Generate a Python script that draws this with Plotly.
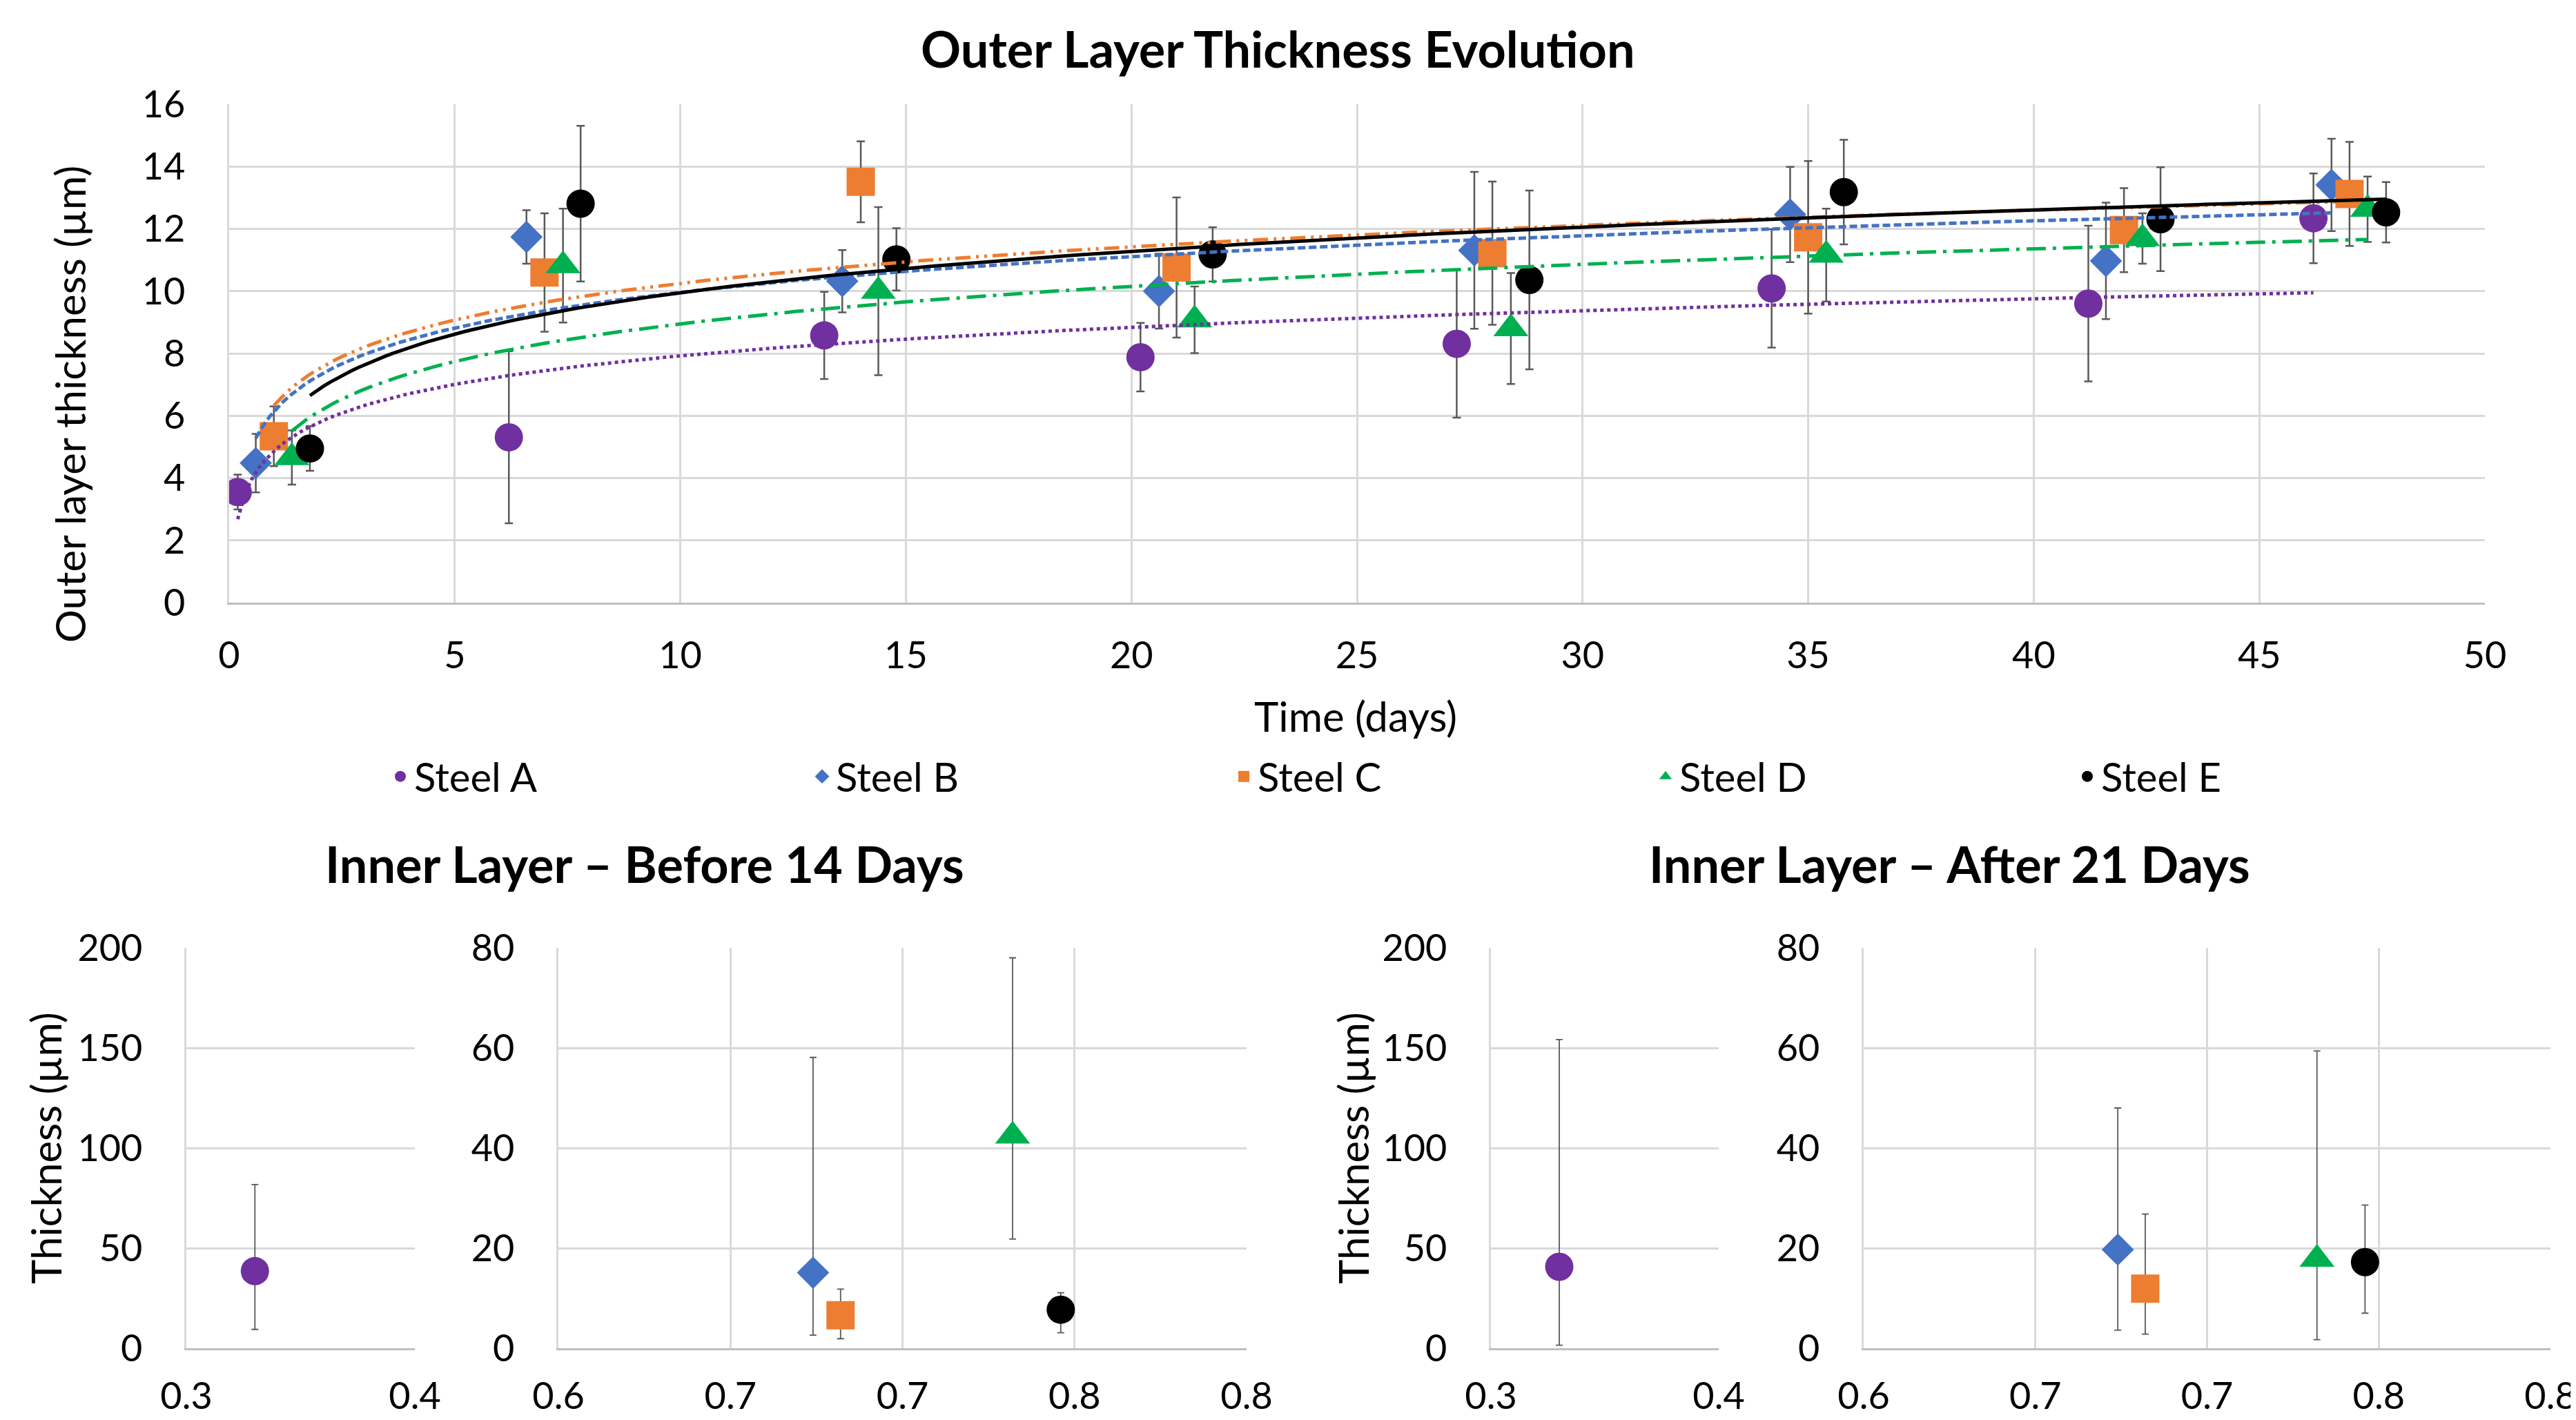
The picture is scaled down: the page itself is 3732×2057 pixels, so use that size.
import numpy as np
import plotly.graph_objects as go

# ---------------- data: outer layer (days, thickness, error) ----------------
days_A = [0.19, 6.2, 13.19, 20.2, 27.21, 34.19, 41.21, 46.2]
thick_A = [3.55, 5.31, 8.58, 7.88, 8.31, 10.09, 9.6, 12.34]
err_A = [0.56, 2.76, 1.4, 1.1, 2.37, 1.9, 2.5, 1.44]

days_B = [0.59, 6.59, 13.59, 20.61, 27.6, 34.6, 41.6, 46.6]
thick_B = [4.48, 11.74, 10.32, 10.0, 11.31, 12.46, 10.97, 13.41]
err_B = [0.94, 0.86, 1.0, 1.2, 2.52, 1.53, 1.87, 1.48]

days_C = [0.99, 6.99, 14.0, 21.0, 28.0, 35.0, 42.0, 47.0]
thick_C = [5.34, 10.6, 13.51, 10.76, 11.22, 11.73, 11.96, 13.12]
err_C = [0.96, 1.9, 1.3, 2.25, 2.3, 2.45, 1.35, 1.67]

days_D = [1.39, 7.4, 14.39, 21.4, 28.41, 35.4, 42.41, 47.4]
thick_D = [4.66, 10.82, 10.0, 9.08, 8.8, 11.16, 11.69, 12.63]
err_D = [0.87, 1.83, 2.7, 1.07, 1.78, 1.49, 0.81, 1.05]

days_E = [1.79, 7.79, 14.79, 21.8, 28.82, 35.79, 42.81, 47.81]
thick_E = [4.95, 12.81, 11.02, 11.18, 10.36, 13.18, 12.31, 12.53]
err_E = [0.72, 2.5, 1.0, 0.87, 2.87, 1.68, 1.67, 0.97]

# ---------------- data: inner layer ----------------
inner_x_A = [0.33]
before_A = [38.5]
before_A_plus = [43.3]
before_A_minus = [29.1]
after_A = [40.7]
after_A_plus = [113.5]
after_A_minus = [39.2]

inner_names = ["Steel B", "Steel C", "Steel D", "Steel E"]
inner_x = [0.674, 0.682, 0.732, 0.746]
before = [15.1, 6.6, 42.4, 7.7]
before_plus = [43.0, 5.2, 35.6, 3.4]
before_minus = [12.5, 4.7, 20.6, 4.6]
after = [19.7, 11.9, 17.8, 17.2]
after_plus = [28.3, 14.9, 41.6, 11.4]
after_minus = [16.1, 9.1, 16.1, 10.2]

x_ticks_top = [0, 5, 10, 15, 20, 25, 30, 35, 40, 45, 50]
y_ticks_top = [0, 2, 4, 6, 8, 10, 12, 14, 16]
small_ticks = [0.3, 0.4]
small_ticktext = ["0.3", "0.4"]
wide_ticks = [0.6, 0.65, 0.7, 0.75, 0.8]
wide_ticktext = ["0.6", "0.7", "0.7", "0.8", "0.8"]

# ---------------- styles ----------------
W, H = 3732, 2057
FONT = "Lato"
GRID = "#D9D9D9"
ERRC = "#595959"
series = [
    ("Steel A", days_A, thick_A, err_A, "#7030A0", "circle", 41, "dot"),
    ("Steel B", days_B, thick_B, err_B, "#4472C4", "diamond", 36, "11px,5px"),
    ("Steel C", days_C, thick_C, err_C, "#ED7D31", "square", 41, "22px,8px,4px,8px,4px,8px"),
    ("Steel D", days_D, thick_D, err_D, "#00B050", "triangle-up", 44, "28px,10px,5px,10px"),
    ("Steel E", days_E, thick_E, err_E, "#000000", "circle", 41, "solid"),
]
style = {s[0]: s for s in series}


def px_x(p):
    return p / W


def px_y(p):
    return 1 - p / H


fig = go.Figure()

# markers with error bars (top chart)
for name, xs, ys, es, col, sym, size, dash in series:
    fig.add_trace(go.Scatter(
        x=xs, y=ys, mode="markers", name=name,
        marker=dict(color=col, symbol=sym, size=size, line=dict(width=0)),
        error_y=dict(type="data", array=es, visible=True, color=ERRC,
                     thickness=2.5, width=6),
        xaxis="x", yaxis="y", showlegend=True,
    ))

# logarithmic trendlines computed from the data
for name, xs, ys, es, col, sym, size, dash in series:
    b, a = np.polyfit(np.log(xs), ys, 1)
    xt = np.linspace(min(xs), max(xs), 300)
    yt = a + b * np.log(xt)
    fig.add_trace(go.Scatter(
        x=xt, y=yt, mode="lines", showlegend=False, hoverinfo="skip",
        line=dict(color=col, width=5, dash=dash),
        xaxis="x", yaxis="y",
    ))


def inner_trace(name, xs, ys, plus, minus, xa, ya):
    _, _, _, _, col, sym, size, _ = style[name]
    return go.Scatter(
        x=xs, y=ys, mode="markers", showlegend=False, name=name,
        marker=dict(color=col, symbol=sym, size=size, line=dict(width=0)),
        error_y=dict(type="data", symmetric=False, array=plus, arrayminus=minus,
                     visible=True, color=ERRC, thickness=1.8, width=5),
        xaxis=xa, yaxis=ya,
    )


fig.add_trace(inner_trace("Steel A", inner_x_A, before_A, before_A_plus, before_A_minus, "x2", "y2"))
fig.add_trace(inner_trace("Steel A", inner_x_A, after_A, after_A_plus, after_A_minus, "x4", "y4"))
for i, nm in enumerate(inner_names):
    fig.add_trace(inner_trace(nm, [inner_x[i]], [before[i]], [before_plus[i]], [before_minus[i]], "x3", "y3"))
    fig.add_trace(inner_trace(nm, [inner_x[i]], [after[i]], [after_plus[i]], [after_minus[i]], "x5", "y5"))

tickfont = dict(family=FONT, size=54, color="black")


def xax(domain, anchor, rng, tv, tt, standoff):
    return dict(domain=domain, anchor=anchor, range=rng, tickvals=tv, ticktext=tt,
                showgrid=True, gridcolor=GRID, gridwidth=2.5, zeroline=False,
                showline=True, linecolor="#BFBFBF", linewidth=3,
                ticks="", tickfont=tickfont, ticklabelstandoff=standoff,
                automargin=False, fixedrange=True)


def yax(domain, anchor, rng, tv, standoff):
    return dict(domain=domain, anchor=anchor, range=rng, tickvals=tv,
                showgrid=True, gridcolor=GRID, gridwidth=2.5, zeroline=False,
                showline=True, linecolor=GRID, linewidth=2.5,
                ticks="", tickfont=tickfont, ticklabelstandoff=standoff,
                automargin=False, fixedrange=True)


top_y = [px_y(865), px_y(143)]
bot_y = [px_y(1945), px_y(1365)]

layout = dict(
    width=W, height=H,
    margin=dict(l=0, r=0, t=0, b=0),
    paper_bgcolor="white", plot_bgcolor="white",
    font=dict(family=FONT, color="black"),
    xaxis=xax([px_x(324), px_x(3592)], "y", [0, 50], x_ticks_top,
              [str(v) for v in x_ticks_top], 27),
    yaxis=yax(top_y, "x", [0, 16], y_ticks_top, 50),
    xaxis2=xax([px_x(262), px_x(593)], "y2", [0.3, 0.4], small_ticks, small_ticktext, 20),
    yaxis2=yax(bot_y, "x2", [0, 200], [0, 50, 100, 150, 200], 50),
    xaxis3=xax([px_x(801), px_x(1798)], "y3", [0.6, 0.8], wide_ticks, wide_ticktext, 20),
    yaxis3=yax(bot_y, "x3", [0, 80], [0, 20, 40, 60, 80], 50),
    xaxis4=xax([px_x(2152), px_x(2482)], "y4", [0.3, 0.4], small_ticks, small_ticktext, 20),
    yaxis4=yax(bot_y, "x4", [0, 200], [0, 50, 100, 150, 200], 50),
    xaxis5=xax([px_x(2692), px_x(3687)], "y5", [0.6, 0.8], wide_ticks, wide_ticktext, 20),
    yaxis5=yax(bot_y, "x5", [0, 80], [0, 20, 40, 60, 80], 50),
    legend=dict(orientation="h", x=px_x(552), xanchor="left", y=px_y(1117), yanchor="middle",
                font=dict(family=FONT, size=58, color="black"),
                entrywidth=566, entrywidthmode="pixels", itemsizing="trace",
                bgcolor="rgba(0,0,0,0)", traceorder="normal"),
    showlegend=True,
)
fig.update_layout(**layout)

ann = []


def add_text(text, x, y, size, bold=False, angle=0):
    ann.append(dict(text=("<b>%s</b>" % text) if bold else text,
                    x=px_x(x), y=px_y(y), xref="paper", yref="paper",
                    xanchor="center", yanchor="middle", showarrow=False,
                    textangle=angle, font=dict(family=FONT, size=size, color="black")))


add_text("Outer Layer Thickness Evolution", 1843, 62, 72, bold=True)
add_text("Time (days)", 1956, 1029, 60)
add_text("Outer layer thickness (µm)", 93, 578, 60, angle=-90)
add_text("Inner Layer – Before 14 Days", 926, 1243, 72, bold=True)
add_text("Inner Layer – After 21 Days", 2816, 1243, 72, bold=True)
add_text("Thickness (µm)", 58, 1655, 60, angle=-90)
add_text("Thickness (µm)", 1952, 1655, 60, angle=-90)
fig.update_layout(annotations=ann)

fig.write_html("out.html")
